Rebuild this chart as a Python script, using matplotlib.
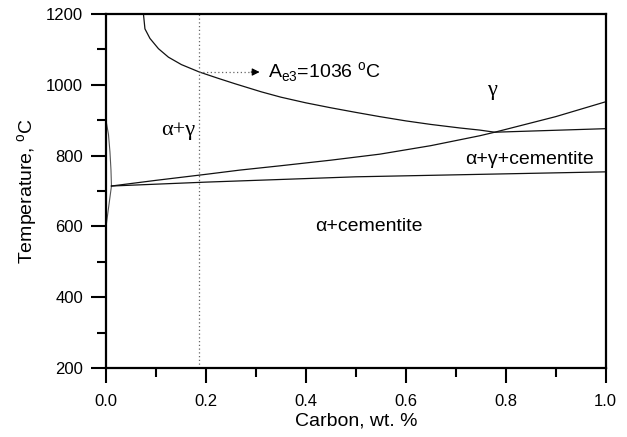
import matplotlib
matplotlib.use('Agg')
import matplotlib.pyplot as plt
from matplotlib.ticker import MultipleLocator, FormatStrFormatter

plt.rcParams['font.family'] = ['Liberation Sans', 'DejaVu Sans']
plt.rcParams['mathtext.fontset'] = 'custom'
plt.rcParams['mathtext.rm'] = 'Liberation Sans'

# ferrite solvus (small lens at the left edge)
solvus_up_x = [0.0, 0.005, 0.008, 0.010, 0.011]
solvus_up_t = [900, 860, 810, 760, 714]
solvus_lo_x = [0.011, 0.0]
solvus_lo_t = [714, 598]

# Ae3 curve, then the nearly flat branch past the crossing
ae3_x = [0.075, 0.078, 0.088, 0.105, 0.125, 0.151, 0.187, 0.225, 0.258, 0.311,
         0.35, 0.40, 0.45, 0.50, 0.548, 0.60, 0.65, 0.708, 0.748, 0.778, 1.0]
ae3_t = [1200, 1158, 1131, 1102, 1078, 1057, 1036, 1018, 1003, 980,
         965, 949, 935, 922, 910, 898, 888, 878, 872, 866, 876]

# rising boundary
acm_x = [0.011, 0.10, 0.20, 0.268, 0.348, 0.45, 0.548, 0.65, 0.748, 0.778, 0.90, 1.0]
acm_t = [714, 730, 747, 759, 771, 787, 804, 828, 856, 866, 910, 952]

# lower boundary
a1_x = [0.011, 0.20, 0.50, 1.0]
a1_t = [714, 725, 740, 754]

c_mark = 0.187
t_mark = 1036

fig = plt.figure(figsize=(6.27, 4.37), dpi=100)
ax = fig.add_axes([0.169, 0.158, 0.797, 0.810])

lc = '#111111'
ax.plot(solvus_up_x, solvus_up_t, color='#555555', lw=0.8)
ax.plot(solvus_lo_x, solvus_lo_t, color='#555555', lw=0.8)
ax.plot(ae3_x, ae3_t, color=lc, lw=0.9)
ax.plot(acm_x, acm_t, color=lc, lw=0.9)
ax.plot(a1_x, a1_t, color=lc, lw=0.9)

# marker lines
ax.axvline(c_mark, color='#666666', lw=0.9, ls=(0, (1, 2)))
ax.plot([c_mark, 0.29], [t_mark, t_mark], color='#666666', lw=0.9, ls=(0, (1, 2)))
ax.annotate('', xy=(0.313, t_mark), xytext=(0.285, t_mark),
            arrowprops=dict(arrowstyle='-|>', color='k', lw=0.8, mutation_scale=11))
ax.text(0.324, t_mark, r'A$_{\mathregular{e3}}$=1036 $^{\mathregular{o}}$C',
        fontsize=14, va='center', ha='left')

# region labels
ax.text(0.144, 870, 'α+γ', fontsize=16, ha='center', va='center',
        family=['Liberation Serif', 'DejaVu Serif'])
ax.text(0.772, 983, 'γ', fontsize=16, ha='center', va='center',
        family=['Liberation Serif', 'DejaVu Serif'])
ax.text(0.847, 788, 'α+γ+cementite', fontsize=14, ha='center', va='center')
ax.text(0.526, 601, 'α+cementite', fontsize=14, ha='center', va='center')

ax.set_xlim(0, 1.0)
ax.set_ylim(200, 1200)
ax.xaxis.set_major_locator(MultipleLocator(0.2))
ax.xaxis.set_minor_locator(MultipleLocator(0.1))
ax.yaxis.set_major_locator(MultipleLocator(200))
ax.yaxis.set_minor_locator(MultipleLocator(100))
ax.xaxis.set_major_formatter(FormatStrFormatter('%.1f'))
ax.tick_params(which='both', direction='out', top=False, right=False, width=1.5)
ax.tick_params(which='major', length=10.5, labelsize=12)
ax.tick_params(axis='x', which='major', pad=8)
ax.tick_params(axis='y', which='major', pad=6)
ax.tick_params(which='minor', length=6.5)
for s in ax.spines.values():
    s.set_linewidth(1.6)

ax.set_xlabel('Carbon, wt. %', fontsize=14, labelpad=3)
ax.set_ylabel(r'Temperature, $^{\mathregular{o}}$C', fontsize=14, labelpad=4)

fig.savefig('out.png', dpi=100)
